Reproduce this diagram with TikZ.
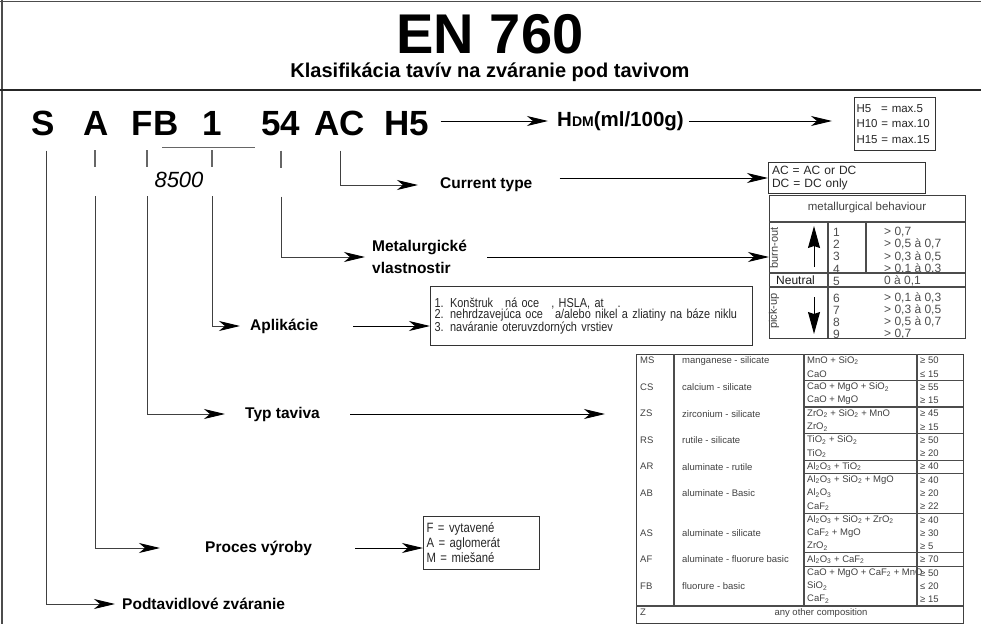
\documentclass[tikz,border=0pt]{standalone}
\usepackage{fontspec}
\setmainfont{Liberation Sans}
\newfontfamily\narrowfont[FakeStretch=0.84]{Liberation Sans}
\usetikzlibrary{arrows.meta,positioning,calc}
\newcommand{\chemsub}[1]{\textsubscript{#1}}

\begin{document}
\begin{tikzpicture}[
    x=1pt, y=-1pt,
    codechar/.style={font=\fontsize{35}{36}\selectfont\bfseries, inner sep=0pt, anchor=base},
    itemlbl/.style={font=\fontsize{15.5}{22}\selectfont\bfseries, inner sep=0pt, anchor=west, align=left},
    leadline/.style={draw=black!60, line width=1.1pt},
    pointer/.style={draw=black, line width=0.9pt, -{Stealth[length=21pt,width=10pt,inset=6pt,color=black]}},
    feed/.style={pointer, draw=black!75},
    infobox/.style={draw=black!80, line width=1pt, anchor=north west, align=left, inner sep=3pt, text=black!85},
    tabline/.style={draw=black!70, line width=1.1pt},
    tabtext/.style={font=\fontsize{9.5}{11}\selectfont, text=black!75, inner sep=0pt, anchor=west},
    mettext/.style={font=\fontsize{12}{13}\selectfont, text=black!70, inner sep=0pt, anchor=west},
    flow/.style={line width=1pt, -{Stealth[length=22pt,width=12pt,inset=2pt]}}
]
\useasboundingbox (0,0) rectangle (981,624);

% frame
\draw[black!70, line width=1pt] (0,1) -- (981,1);
\draw[black!70, line width=1.2pt] (2,0) -- (2,624);
\draw[black!85, line width=2.4pt] (0,90) -- (981,90);

% title
\node[font=\fontsize{56}{58}\selectfont\bfseries, inner sep=0pt, anchor=base] (title) at (490,53) {EN 760};
\node[font=\fontsize{20}{22}\selectfont\bfseries, inner sep=0pt, anchor=base] (subtitle) at (490,77) {Klasifikácia tavív na zváranie pod tavivom};

% designation
\node[codechar] (cS) at (43,135) {S};
\node[codechar] (cA) at (96,135) {A};
\node[codechar] (cFB) at (155,135) {FB};
\node[codechar] (c1) at (212,135) {1};
\node[codechar] (c54) at (281,135) {54};
\node[codechar] (cAC) at (340,135) {AC};
\node[codechar] (cH5) at (407,135) {H5};

\draw[leadline] ([xshift=-50pt,yshift=-12pt]c1.south) -- ([xshift=43pt,yshift=-12pt]c1.south);
\node[font=\fontsize{22}{24}\selectfont\itshape, inner sep=0pt] (n8500) at (179,180) {8500};

% short ticks above 8500
\foreach \nd/\dx in {cA/-1pt, cFB/-8pt, c1/0pt, c54/0pt}
    \draw[leadline] ([xshift=\dx,yshift=-15pt]\nd.south) -- ++(0,17);

% hydrogen
\node[font=\fontsize{20.5}{22}\selectfont\bfseries, inner sep=0pt, anchor=west] (tHdm) at (557,121) {H{\fontsize{14}{15}\selectfont DM}(ml/100g)};
\draw[pointer, shorten <=11pt, shorten >=9pt] (cH5.east |- tHdm) -- (tHdm.west);
\node[infobox, text width=77pt, minimum height=53pt, inner sep=2pt, font=\fontsize{11.5}{15.5}\selectfont] (hbox) at (854,97) {H5\hspace{10pt}= max.5\\H10 = max.10\\H15 = max.15};
\draw[pointer, shorten <=5pt, shorten >=22pt] (tHdm.east) -- (hbox.west |- tHdm);

% current type
\node[itemlbl] (tCurr) at (440,185) {Current type};
\draw[feed, shorten >=22pt] ([yshift=-15pt]cAC.south) |- (tCurr.west);
\node[infobox, text width=150pt, minimum height=28pt, inner sep=3.5pt, font=\fontsize{12}{13}\selectfont] (acbox) at (768,162) {AC = AC or DC\\DC = DC only};
\coordinate (curOut) at ([xshift=27pt,yshift=7pt]tCurr.east);
\draw[pointer] (curOut) -- (acbox.west |- curOut);

% metallurgical behaviour
\node[itemlbl] (tMet) at (372,257) {Metalurgické\\vlastnostir};
\draw[feed, shorten >=7pt] ([yshift=-61pt]c54.south) |- (tMet.west);
\node[draw=black!75, line width=1pt, minimum width=196pt, minimum height=143pt, anchor=north west, inner sep=0pt] (metbox) at (769,195) {};
\coordinate (metOut) at ([xshift=20pt]tMet.east);
\draw[pointer] (metOut) -- (metbox.west |- metOut);
\node[font=\fontsize{11.5}{13}\selectfont, text=black!75] (methead) at (867,208) {metallurgical behaviour};
\draw[tabline] (769,222) -- (965,222);
\draw[tabline] (769,273) -- (965,273);
\draw[tabline] (769,287) -- (965,287);
\draw[tabline] (828,222) -- (828,338);
\draw[tabline] (866,222) -- (866,273);
\foreach \n/\v [count=\i] in {1/{> 0,7}, 2/{> 0,5 à 0,7}, 3/{> 0,3 à 0,5}, 4/{> 0,1 à 0,3}} {
    \node[mettext] at (833,{219.5+12.4*\i}) {\n};
    \node[mettext] at (884,{219.5+12.4*\i}) {\v};
}
\node[mettext, text=black!90] (tNeutral) at (776,280) {Neutral};
\node[mettext] at (833,281) {5};
\node[mettext] at (884,281) {0 à 0,1};
\foreach \n/\v [count=\i] in {6/{> 0,1 à 0,3}, 7/{> 0,3 à 0,5}, 8/{> 0,5 à 0,7}, 9/{> 0,7}} {
    \node[mettext] at (833,{286+12*\i}) {\n};
    \node[mettext] at (884,{286+12*\i}) {\v};
}
\node[rotate=90, font=\fontsize{11}{12}\selectfont, text=black!75] (tBurn) at (774,248) {burn-out};
\node[rotate=90, font=\fontsize{11}{12}\selectfont, text=black!75] (tPick) at (774,311) {pick-up};
\draw[flow] (814,267) -- (814,226);
\draw[flow] (814,297) -- (814,334);

% application
\node[itemlbl] (tApl) at (250,326) {Aplikácie};
\draw[feed, shorten >=10pt] ([yshift=-61pt]c1.south) |- (tApl.west);
\node[infobox, text width=314pt, minimum height=59pt, inner sep=4pt, font=\narrowfont\fontsize{13}{11.5}\selectfont] (aplbox) at (430,286) {1. Konštruk\hspace{12pt}ná oce\hspace{12pt}, HSLA, at\hspace{14pt}.\\2. nehrdzavejúca oce\hspace{12pt}a/alebo nikel a zliatiny na báze niklu\\3. naváranie oteruvzdorných vrstiev};
\coordinate (aplOut) at ([xshift=35pt]tApl.east);
\draw[pointer] (aplOut) -- (aplbox.west |- aplOut);

% flux type
\node[itemlbl] (tTyp) at (245,414) {Typ taviva};
\draw[feed, shorten >=20pt] ([xshift=-8pt,yshift=-61pt]cFB.south) |- (tTyp.west);
\node[draw=black!75, line width=1.1pt, minimum width=327pt, minimum height=269pt, anchor=north west, inner sep=0pt] (flxtab) at (636,354) {};
\coordinate (typOut) at ([xshift=30pt]tTyp.east);
\draw[pointer, shorten >=31pt] (typOut) -- (flxtab.west |- typOut);
\foreach \cx in {674,804,917}
    \draw[tabline] (\cx,354) -- (\cx,606);
\draw[tabline] (636,606) -- (963,606);
\foreach \k in {2,4,6,8,9,12,15,16}
    \draw[tabline] (804,{354+13.26*\k}) -- (963,{354+13.26*\k});
\foreach \k/\cd/\nm in {1/MS/manganese - silicate, 3/CS/calcium - silicate, 5/ZS/zirconium - silicate,
    7/RS/rutile - silicate, 9/AR/aluminate - rutile, 11/AB/aluminate - Basic,
    14/AS/aluminate - silicate, 16/AF/aluminate - fluorure basic, 18/FB/fluorure - basic} {
    \node[tabtext] at (640,{354+13.26*(\k-0.5)}) {\cd};
    \node[tabtext] at (682,{354+13.26*(\k-0.5)}) {\nm};
}
\foreach \k/\comp/\val in {
    1/{MnO + SiO\chemsub{2}}/{≥ 50},
    2/{CaO}/{≤ 15},
    3/{CaO + MgO + SiO\chemsub{2}}/{≥ 55},
    4/{CaO + MgO}/{≥ 15},
    5/{ZrO\chemsub{2} + SiO\chemsub{2} + MnO}/{≥ 45},
    6/{ZrO\chemsub{2}}/{≥ 15},
    7/{TiO\chemsub{2} + SiO\chemsub{2}}/{≥ 50},
    8/{TiO\chemsub{2}}/{≥ 20},
    9/{Al\chemsub{2}O\chemsub{3} + TiO\chemsub{2}}/{≥ 40},
    10/{Al\chemsub{2}O\chemsub{3} + SiO\chemsub{2} + MgO}/{≥ 40},
    11/{Al\chemsub{2}O\chemsub{3}}/{≥ 20},
    12/{CaF\chemsub{2}}/{≥ 22},
    13/{Al\chemsub{2}O\chemsub{3} + SiO\chemsub{2} + ZrO\chemsub{2}}/{≥ 40},
    14/{CaF\chemsub{2} + MgO}/{≥ 30},
    15/{ZrO\chemsub{2}}/{≥ 5},
    16/{Al\chemsub{2}O\chemsub{3} + CaF\chemsub{2}}/{≥ 70},
    17/{CaO + MgO + CaF\chemsub{2} + MnO}/{≥ 50},
    18/{SiO\chemsub{2}}/{≤ 20},
    19/{CaF\chemsub{2}}/{≥ 15}} {
    \node[tabtext] at (807,{354+13.26*(\k-0.5)}) {\comp};
    \node[tabtext] at (920,{354+13.26*(\k-0.5)}) {\val};
}
\node[tabtext] (tZ) at (640,612) {Z};
\node[tabtext, anchor=center] (tAny) at (821,613) {any other composition};

% production process
\node[itemlbl] (tProc) at (205,548) {Proces výroby};
\draw[feed, shorten >=45pt] ([xshift=-1pt,yshift=-61pt]cA.south) |- (tProc.west);
\node[infobox, text width=110pt, minimum height=53pt, font=\narrowfont\fontsize{13.5}{15}\selectfont] (procbox) at (423,516) {F = vytavené\\A = aglomerát\\M = miešané};
\coordinate (procOut) at ([xshift=43pt]tProc.east);
\draw[pointer] (procOut) -- (procbox.west |- procOut);

% welding process
\node[itemlbl] (tPod) at (122,604) {Podtavidlové zváranie};
\draw[feed, shorten >=7pt] ([xshift=3pt,yshift=-15pt]cS.south) |- (tPod.west);
\end{tikzpicture}
\end{document}
